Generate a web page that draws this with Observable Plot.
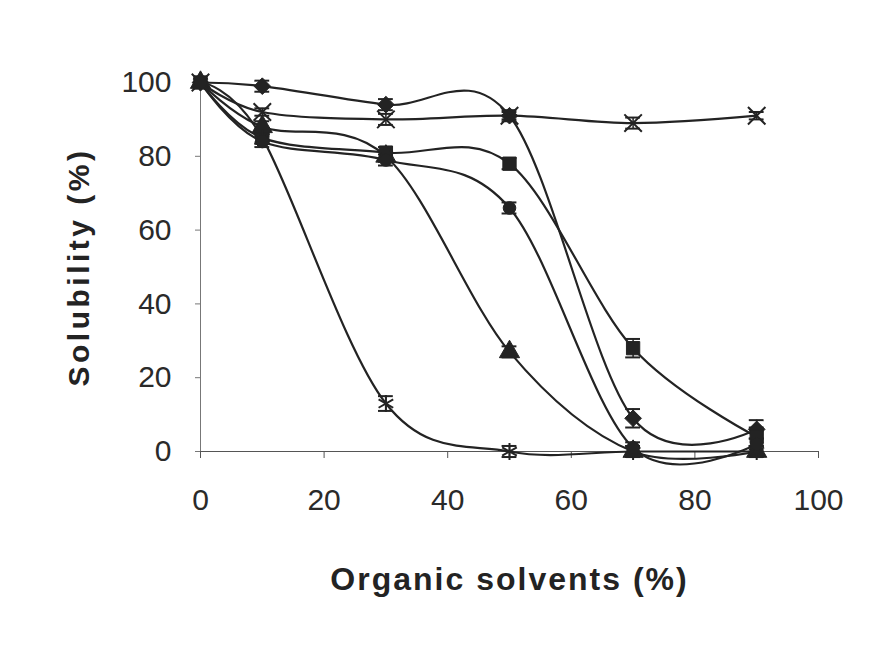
<!DOCTYPE html>
<html>
<head>
<meta charset="utf-8">
<script src="https://cdn.jsdelivr.net/npm/d3@7"></script>
<script src="https://cdn.jsdelivr.net/npm/@observablehq/plot@0.6"></script>
<style>
  body { margin: 0; background: #ffffff; }
  #chart svg { display: block; }
</style>
</head>
<body>
<div id="chart"></div>
<script>
// Organic solvent concentration (%) at which solubility was measured
const solvent = [0, 10, 30, 50, 70, 90];

// Solubility (%) per series, one array per marker style
const diamondVals  = [100, 99, 94, 91, 9, 6];
const squareVals   = [100, 85, 81, 78, 28, 4];
const triangleVals = [100, 88, 80, 27, 0, 0];
const crossVals    = [100, 92, 90, 91, 89, 91];
const starVals     = [100, 85, 13, 0, 0, 0];
const circleVals   = [100, 84, 79, 66, 1, 2];

// Error bar half-widths (%)
const diamondErr  = [0, 1.5, 1.5, 1.5, 2.5, 2.5];
const squareErr   = [0, 1.5, 1.5, 1.5, 2.5, 2.5];
const triangleErr = [0, 1.5, 1.5, 1.5, 1.5, 1.5];
const crossErr    = [0, 1, 1.5, 1, 1.5, 1];
const starErr     = [0, 1.5, 2, 1.5, 1.5, 1.5];
const circleErr   = [0, 1.5, 1.5, 1.5, 1.5, 1.5];

const xTicks = [0, 20, 40, 60, 80, 100];
const yTicks = [0, 20, 40, 60, 80, 100];

const xTitle = "Organic solvents (%)";
const yTitle = "Solubility (%)";

const series = [
  {name: "diamond",  values: diamondVals,  errs: diamondErr,  symbol: "diamond2", filled: true},
  {name: "square",   values: squareVals,   errs: squareErr,   symbol: "square",   filled: true},
  {name: "triangle", values: triangleVals, errs: triangleErr, symbol: "triangle", filled: true},
  {name: "cross",    values: crossVals,    errs: crossErr,    symbol: "times",    filled: false},
  {name: "star",     values: starVals,     errs: starErr,     symbol: "asterisk", filled: false},
  {name: "circle",   values: circleVals,   errs: circleErr,   symbol: "circle",   filled: true}
];

const rows = series.flatMap(s =>
  solvent.map((x, i) => ({series: s.name, x, y: s.values[i], err: s.errs[i]}))
);

const ink = "#232323";
const capHalf = 1.2;

const markerMarks = series.map(s => {
  const data = rows.filter(d => d.series === s.name);
  return s.filled
    ? Plot.dot(data, {x: "x", y: "y", symbol: s.symbol, r: s.symbol === "circle" ? 6.3 : 7.5, fill: ink, stroke: ink, strokeWidth: 1})
    : Plot.dot(data, {x: "x", y: "y", symbol: s.symbol, r: 8, stroke: ink, strokeWidth: 2});
});

const chart = Plot.plot({
  width: 871,
  height: 649,
  marginLeft: 200,
  marginRight: 53,
  marginTop: 82,
  marginBottom: 198,
  style: {fontFamily: "'Liberation Sans', Arial, sans-serif", color: "#2a2a2a", background: "#ffffff"},
  x: {domain: [0, 100]},
  y: {domain: [0, 100]},
  marks: [
    Plot.axisX({ticks: xTicks, tickSize: 7, tickPadding: 30, fontSize: 30, label: null, stroke: "#555"}),
    Plot.axisY({ticks: yTicks, tickSize: 5, tickPadding: 24, fontSize: 30, label: null, stroke: "#777"}),
    Plot.ruleX([0], {y1: 0, y2: 100, stroke: "#777", strokeWidth: 1}),
    Plot.ruleY([0], {x1: 0, x2: 100, stroke: "#555", strokeWidth: 1.2}),
    Plot.line(rows, {x: "x", y: "y", z: "series", curve: "cardinal", stroke: ink, strokeWidth: 2.2}),
    Plot.ruleX(rows.filter(d => d.err > 0), {x: "x", y1: d => d.y - d.err, y2: d => d.y + d.err, stroke: ink, strokeWidth: 1.5}),
    Plot.ruleY(rows.filter(d => d.err > 0), {y: d => d.y + d.err, x1: d => d.x - capHalf, x2: d => d.x + capHalf, stroke: ink, strokeWidth: 2}),
    Plot.ruleY(rows.filter(d => d.err > 0), {y: d => d.y - d.err, x1: d => d.x - capHalf, x2: d => d.x + capHalf, stroke: ink, strokeWidth: 2}),
    ...markerMarks,
    Plot.text([xTitle], {frameAnchor: "bottom", dy: 138, fontSize: 32, fontWeight: "bold", fill: ink}),
    Plot.text([yTitle], {frameAnchor: "left", dx: -121, rotate: -90, textAnchor: "middle", fontSize: 30, fontWeight: "bold", fill: ink})
  ]
});

// Widen the letter spacing of the two axis titles
d3.select(chart).selectAll("text")
  .filter(function () { return this.textContent === xTitle; })
  .style("letter-spacing", "2px");
d3.select(chart).selectAll("text")
  .filter(function () { return this.textContent === yTitle; })
  .style("letter-spacing", "3.5px");

document.getElementById("chart").append(chart);
</script>
</body>
</html>
